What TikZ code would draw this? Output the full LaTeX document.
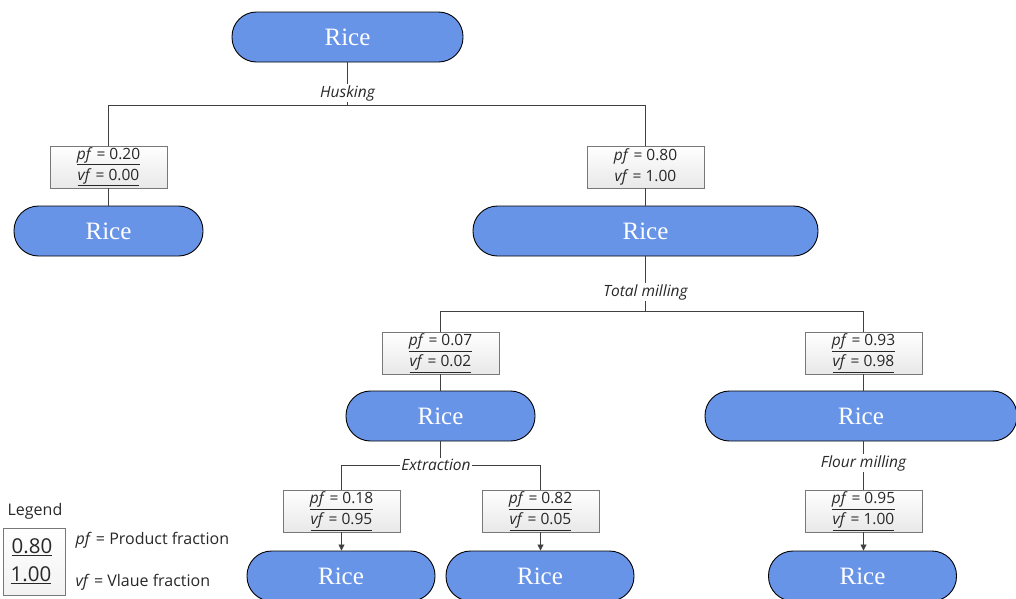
\documentclass[tikz,border=0pt]{standalone}
\usepackage{fontspec}
\setmainfont{Liberation Serif}
\newfontfamily\labfont{Open Sans}
\usetikzlibrary{arrows.meta}
\definecolor{riceblue}{RGB}{104,148,232}
\definecolor{boxgray}{RGB}{120,120,120}
\definecolor{txt}{RGB}{40,40,40}
\tikzset{
  rice/.style={rectangle, rounded corners=24.5pt, fill=riceblue, draw=black, line width=0.9pt,
    minimum height=50pt, text=white, font=\fontsize{25}{25}\selectfont, inner sep=0pt},
  fbox/.style={rectangle, draw=boxgray, line width=0.8pt, top color=white, bottom color=gray!18,
    minimum width=117pt, minimum height=42pt, align=center, inner sep=0pt, text=txt,
    font=\labfont\fontsize{15.5}{21}\selectfont},
  conn/.style={draw=black!75, line width=0.8pt},
  arr/.style={conn, -{Triangle[length=6pt,width=6pt]}},
  proc/.style={fill=white, inner sep=1.5pt, text=txt, font=\labfont\itshape\fontsize{15.5}{15.5}\selectfont},
  leg/.style={text=txt, font=\labfont\fontsize{16}{16}\selectfont},
}
\newcommand{\fr}[2]{\underline{\textit{pf} = #1}\\\underline{\textit{vf} = #2}}
\begin{document}
\begin{tikzpicture}[x=1pt,y=1pt]
\useasboundingbox (0,0) rectangle (1016,-598);
\clip (0,0) rectangle (1016,-598);
% Rice nodes
\node[rice, minimum width=231pt] (r0) at (347.5,-37) {Rice};
\node[rice, minimum width=189pt] (r1) at (108.5,-231) {Rice};
\node[rice, minimum width=345pt] (r2) at (645.5,-231) {Rice};
\node[rice, minimum width=189pt] (r3) at (440.5,-416) {Rice};
\node[rice, minimum width=312pt] (r4) at (861,-416) {Rice};
\node[rice, minimum width=188pt] (r5) at (341,-576) {Rice};
\node[rice, minimum width=188pt] (r6) at (540,-576) {Rice};
\node[rice, minimum width=188pt] (r7) at (862.5,-576) {Rice};
% fraction boxes
\node[fbox] (b1) at (108.5,-167) {\fr{0.20}{0.00}};
\node[fbox] (b2) at (645.5,-167) {\textit{pf} = 0.80\\\textit{vf} = 1.00};
\node[fbox] (b3) at (440.5,-353) {\fr{0.07}{0.02}};
\node[fbox] (b4) at (863.5,-353) {\fr{0.93}{0.98}};
\node[fbox] (b5) at (341.5,-511) {\fr{0.18}{0.95}};
\node[fbox] (b6) at (540.5,-511) {\fr{0.82}{0.05}};
\node[fbox] (b7) at (863.5,-511) {\fr{0.95}{1.00}};
% junctions
\coordinate (j1) at (347.5,-105);
\coordinate (j2) at (645.5,-311);
\coordinate (j3) at (440.5,-465);
% husking
\draw[conn] (r0.south) -- (j1);
\draw[conn] (j1) -| (b1.north);
\draw[conn] (j1) -| (b2.north);
\node[proc] (p1) at (347.5,-93) {Husking};
\draw[conn] (b1.south) -- (b1.south |- r1.north);
\draw[conn] (b2.south) -- (b2.south |- r2.north);
% total milling
\draw[conn] (r2.south) -- (j2);
\draw[conn] (j2) -| (b3.north);
\draw[conn] (j2) -| (b4.north);
\node[proc] (p2) at (645.5,-292) {Total milling};
\draw[conn] (b3.south) -- (b3.south |- r3.north);
\draw[conn] (b4.south) -- (b4.south |- r4.north);
% extraction
\draw[conn] (r3.south) -- (j3);
\draw[conn] (j3) -| (b5.north);
\draw[conn] (j3) -| (b6.north);
\node[proc] (p3) at (436,-465) {Extraction};
\draw[arr] (b5.south) -- (b5.south |- r5.north);
\draw[arr] (b6.south) -- (b6.south |- r6.north);
% flour milling
\draw[conn] (r4.south -| b7.north) -- (b7.north);
\node[proc] (p4) at (863.5,-463) {Flour milling};
\draw[arr] (b7.south) -- (b7.south |- r7.north);
% legend
\node[leg] (lg) at (35,-511) {Legend};
\node[rectangle, draw=boxgray, line width=0.8pt, minimum width=62pt, minimum height=67pt, top color=white, bottom color=gray!10] (lb) at (34,-561.5) {};
\node[text=txt, font=\labfont\fontsize{20.5}{20.5}\selectfont] (l1) at (32,-547) {\underline{0.80}};
\node[text=txt, font=\labfont\fontsize{20.5}{20.5}\selectfont] (l2) at (31,-575) {\underline{1.00}};
\node[leg, anchor=west] (lp) at (72,-540) {\textit{pf} = Product fraction};
\node[leg, anchor=west] (lv) at (72,-582) {\textit{vf} = Vlaue fraction};
\end{tikzpicture}
\end{document}
